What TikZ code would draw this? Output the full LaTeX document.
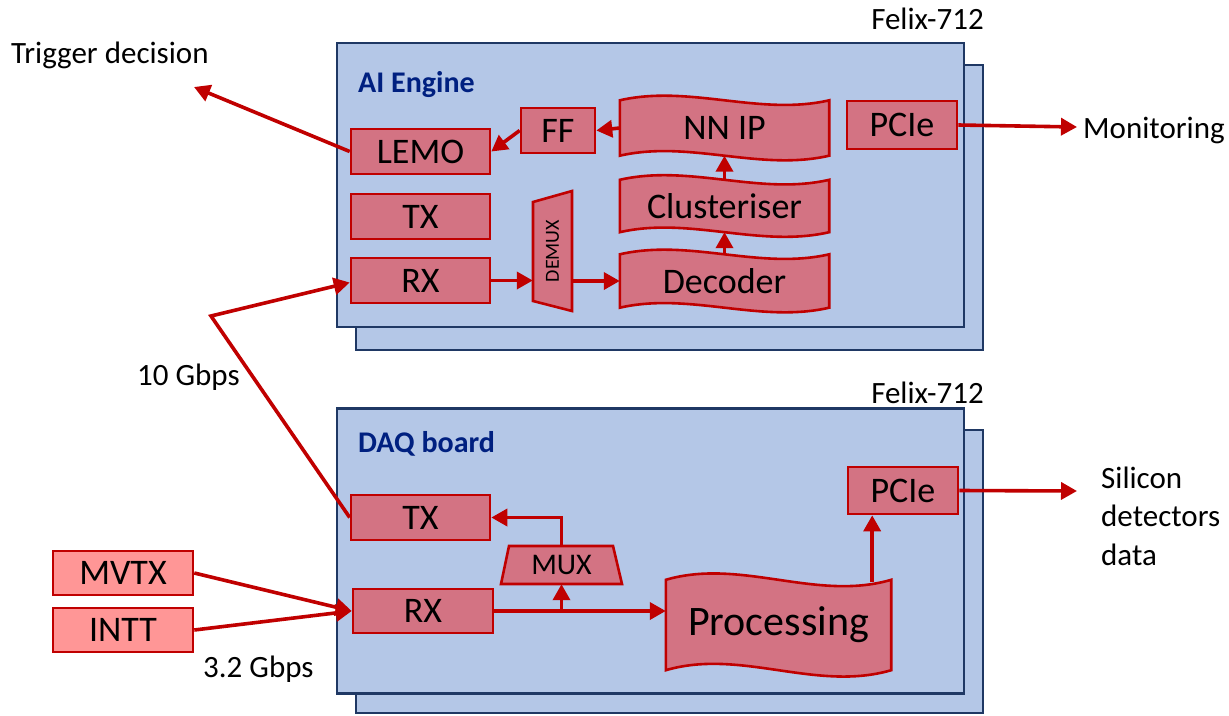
\documentclass[tikz,border=0pt]{standalone}
\usepackage{fontspec}
\setmainfont{Carlito}
\usetikzlibrary{arrows.meta,calc}
\definecolor{boardfill}{RGB}{180,199,231}
\definecolor{boardline}{RGB}{31,56,100}
\definecolor{boxfill}{RGB}{211,115,131}
\definecolor{boxline}{RGB}{192,0,0}
\definecolor{extfill}{RGB}{255,150,150}
\definecolor{titleblue}{RGB}{0,32,128}
\tikzset{
 board/.style={draw=boardline, fill=boardfill, line width=2.2pt, inner sep=0},
 rbox/.style={draw=boxline, fill=boxfill, line width=2.6pt, inner sep=0, minimum width=139pt, minimum height=45pt, font=\fontsize{36}{40}\selectfont},
 ebox/.style={rbox, fill=extfill},
 wavenode/.style={inner sep=0},
 wavetext/.style={inner sep=0, font=\fontsize{36}{40}\selectfont},
 wavefill/.style={draw=boxline, fill=boxfill, line width=2.6pt},
 arr/.style={draw=boxline, line width=3.6pt, -{Triangle[length=16pt,width=17pt]}},
 lbl/.style={inner sep=0, font=\fontsize{31}{38.5}\selectfont},
 boardtitle/.style={inner sep=0, font=\fontsize{30}{36}\selectfont\bfseries, text=titleblue, anchor=base west},
}
\newcommand\wavedraw[2]{%
 \draw[wavefill] (#1.north west)
  .. controls ($(#1.north west)!1/3!(#1.north east)+(0,-#2)$) and ($(#1.north west)!2/3!(#1.north east)+(0,#2)$) .. (#1.north east)
  -- (#1.south east)
  .. controls ($(#1.south west)!2/3!(#1.south east)+(0,#2)$) and ($(#1.south west)!1/3!(#1.south east)+(0,-#2)$) .. (#1.south west)
  -- cycle;}
\begin{document}
\begin{tikzpicture}[x=1pt,y=-1pt]
\useasboundingbox (0,0) rectangle (1229,715);
% boards
\node[board, minimum width=627pt, minimum height=285pt] (topback) at (669.5,207.5) {};
\node[board, minimum width=627pt, minimum height=284pt] (topfront) at (650.5,185) {};
\node[board, minimum width=627pt, minimum height=283pt] (botback) at (669.5,571.5) {};
\node[board, minimum width=627pt, minimum height=285pt] (botfront) at (650.5,551) {};
\node[lbl, anchor=base east] (felix1) at (984,29) {Felix-712};
\node[lbl, anchor=base east] (felix2) at (984,403) {Felix-712};
\node[boardtitle] (ai) at (358,92) {AI Engine};
\node[boardtitle] (daq) at (358,452) {DAQ board};
% top board blocks
\node[rbox] (lemo) at (420.5,151.5) {LEMO};
\node[rbox] (tx1) at (420.5,216.5) {TX};
\node[rbox] (rx1) at (420.5,280.5) {RX};
\node[rbox, minimum width=74pt] (ff) at (558,130.5) {FF};
\node[rbox, minimum width=110pt, minimum height=48pt] (pcie1) at (902,125) {PCIe};
\node[wavenode, minimum width=209pt, minimum height=55pt] (nn) at (724.5,128) {};
\wavedraw{nn}{16}
\node[wavetext] (nnt) at (nn) {NN IP};
\node[wavenode, minimum width=209pt, minimum height=52pt] (clu) at (724.5,206) {};
\wavedraw{clu}{16}
\node[wavetext] (clut) at (clu) {Clusteriser};
\node[wavenode, minimum width=209pt, minimum height=53pt] (dec) at (724.5,281) {};
\wavedraw{dec}{16}
\node[wavetext] (dect) at (dec) {Decoder};
\node[inner sep=0, minimum width=39pt, minimum height=120pt] (demux) at (552.5,251) {};
\draw[wavefill] (533,202) -- (572,191) -- (572,311) -- (533,301) -- cycle;
\node[inner sep=0, rotate=90, font=\fontsize{20}{24}\selectfont] (demuxt) at (demux) {DEMUX};
% bottom board blocks
\node[rbox] (tx2) at (420.5,517.5) {TX};
\node[rbox, minimum width=140pt, minimum height=44pt] (rx2) at (423,611) {RX};
\node[ebox, minimum width=140pt, minimum height=44pt] (mvtx) at (123,573) {MVTX};
\node[ebox, minimum width=140pt, minimum height=44pt] (intt) at (123,630) {INTT};
\node[rbox, minimum width=110pt, minimum height=47pt] (pcie2) at (903,490.5) {PCIe};
\node[inner sep=0, minimum width=121pt, minimum height=38pt] (mux) at (561.5,565) {};
\draw[wavefill] (509,546) -- (613,546) -- (622,584) -- (501,584) -- cycle;
\node[inner sep=0, font=\fontsize{30}{34}\selectfont] (muxt) at (mux) {MUX};
\node[wavenode, minimum width=225pt, minimum height=90pt] (proc) at (778.5,625) {};
\wavedraw{proc}{22}
\node[inner sep=0, font=\fontsize{42}{46}\selectfont] (proct) at (proc) {Processing};
% outside labels
\node[lbl, anchor=base west] (trig) at (11,63) {Trigger decision};
\node[lbl, anchor=base west] (mon) at (1083,138) {Monitoring};
\node[lbl, anchor=base west, align=left] (sil) at (1101,565) {Silicon\\detectors\\data};
\node[lbl, anchor=base west] (g10) at (137,385) {10 Gbps};
\node[lbl, anchor=base west] (g32) at (203,677) {3.2 Gbps};
\coordinate (trigtip) at (194,87);
\coordinate (montip) at (1077,127);
\coordinate (siltip) at (1077,491);
\coordinate (bend) at (211,316);
\coordinate (pst) at ($(proc.north east)+(-19,2)$);
% connectors top
\draw[arr] (lemo.west) -- (trigtip);
\draw[arr] (ff.west) -- (lemo.east);
\draw[arr] (nn.west) -- (ff.east);
\draw[arr] (clu.north) -- (nn.south);
\draw[arr] (dec.north) -- (clu.south);
\draw[arr] (rx1.east) -- (rx1.east -| demux.west);
\draw[arr] (demux.east |- dec.west) -- (dec.west);
\draw[arr] (pcie1.east) -- (montip);
\draw[arr] (tx2.west) -- (bend) -- ($(rx1.west)+(0,2)$);
% connectors bottom
\draw[arr] (mvtx.east) -- (rx2.west);
\draw[arr] (intt.east) -- (rx2.west);
\draw[arr] (rx2.east) -- (rx2.east -| proc.west);
\draw[arr] (rx2.east -| mux.south) -- (mux.south);
\draw[arr] (mux.north) |- (tx2.east);
\draw[arr] (pst) -- (pst |- pcie2.south);
\draw[arr] (pcie2.east) -- (siltip);
\end{tikzpicture}
\end{document}
